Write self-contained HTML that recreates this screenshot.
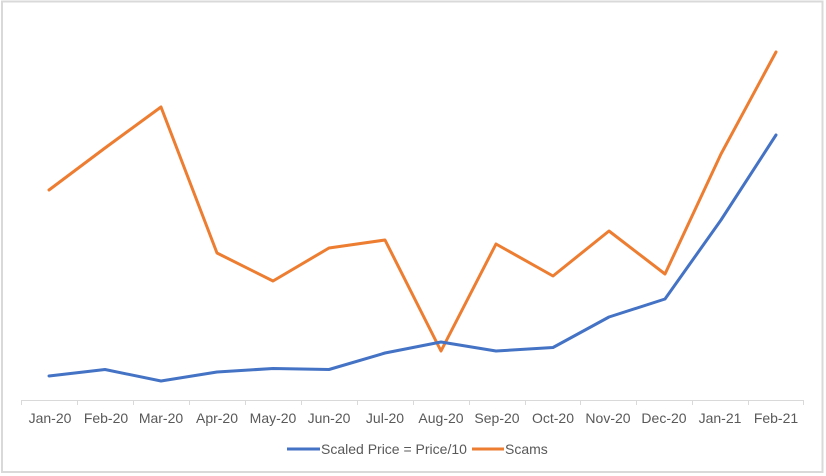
<!DOCTYPE html>
<html>
<head>
<meta charset="utf-8">
<style>
  html,body{margin:0;padding:0;background:#fff;}
  body{width:826px;height:476px;overflow:hidden;}
  svg{display:block;}
  text{font-family:"Liberation Sans",Arial,sans-serif;font-size:14px;fill:#595959;}
</style>
</head>
<body>
<svg width="826" height="476" viewBox="0 0 826 476" xmlns="http://www.w3.org/2000/svg">
  <rect x="0" y="0" width="826" height="476" fill="#fff"/>
  <rect x="2" y="1.5" width="820.5" height="470.5" fill="#fff" stroke="#d9d9d9" stroke-width="2"/>
  <!-- axis -->
  <line x1="21" y1="400.5" x2="804" y2="400.5" stroke="#d9d9d9" stroke-width="1"/>
  <g stroke="#d9d9d9" stroke-width="1">
    <line x1="21.5" y1="400" x2="21.5" y2="405"/>
    <line x1="77.5" y1="400" x2="77.5" y2="405"/>
    <line x1="133.5" y1="400" x2="133.5" y2="405"/>
    <line x1="189.5" y1="400" x2="189.5" y2="405"/>
    <line x1="245.5" y1="400" x2="245.5" y2="405"/>
    <line x1="301.5" y1="400" x2="301.5" y2="405"/>
    <line x1="357.5" y1="400" x2="357.5" y2="405"/>
    <line x1="413.5" y1="400" x2="413.5" y2="405"/>
    <line x1="469.5" y1="400" x2="469.5" y2="405"/>
    <line x1="525.5" y1="400" x2="525.5" y2="405"/>
    <line x1="580.5" y1="400" x2="580.5" y2="405"/>
    <line x1="636.5" y1="400" x2="636.5" y2="405"/>
    <line x1="692.5" y1="400" x2="692.5" y2="405"/>
    <line x1="748.5" y1="400" x2="748.5" y2="405"/>
    <line x1="803.5" y1="400" x2="803.5" y2="405"/>
  </g>
  <g text-anchor="middle">
    <text x="50" y="423">Jan-20</text>
    <text x="106" y="423">Feb-20</text>
    <text x="161" y="423">Mar-20</text>
    <text x="217" y="423">Apr-20</text>
    <text x="273" y="423">May-20</text>
    <text x="329" y="423">Jun-20</text>
    <text x="385" y="423">Jul-20</text>
    <text x="441" y="423">Aug-20</text>
    <text x="497" y="423">Sep-20</text>
    <text x="553" y="423">Oct-20</text>
    <text x="608" y="423">Nov-20</text>
    <text x="664" y="423">Dec-20</text>
    <text x="720" y="423">Jan-21</text>
    <text x="776" y="423">Feb-21</text>
  </g>
  <!-- series -->
  <polyline fill="none" stroke="#ED7D31" stroke-width="3" stroke-linejoin="round" stroke-linecap="round"
    points="49,190 105,148 161,107 217,253 273,281 329,248 385,240 441,351 496,244 553,276 609,231 665,274 721,154 776,52"/>
  <polyline fill="none" stroke="#4472C4" stroke-width="3" stroke-linejoin="round" stroke-linecap="round"
    points="49,376 105,369.5 161,381 217,372 273,368.5 329,369.5 385,353 441,342 496,351 553,347.5 609,317 665,299 721,220 776,135"/>
  <!-- legend -->
  <line x1="287" y1="449" x2="320" y2="449" stroke="#4472C4" stroke-width="3"/>
  <text x="321" y="454">Scaled Price = Price/10</text>
  <line x1="472" y1="449" x2="504" y2="449" stroke="#ED7D31" stroke-width="3"/>
  <text x="505" y="454">Scams</text>
</svg>
</body>
</html>
